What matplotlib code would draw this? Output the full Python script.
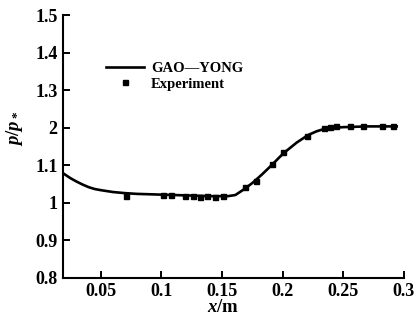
import matplotlib
matplotlib.use("Agg")
import matplotlib.pyplot as plt

# Model curve (GAO-YONG)
model_x = [0.019, 0.025, 0.03, 0.035, 0.04, 0.045, 0.05, 0.06, 0.07, 0.08, 0.10, 0.12, 0.14,
           0.155, 0.161, 0.168, 0.175, 0.183, 0.191, 0.2005, 0.2116, 0.221, 0.228, 0.233,
           0.24, 0.25, 0.27, 0.294]
model_y = [1.078, 1.065, 1.056, 1.048, 1.041, 1.036, 1.033, 1.028, 1.025, 1.023, 1.021, 1.019,
           1.017, 1.017, 1.02, 1.035, 1.052, 1.075, 1.10, 1.131, 1.160, 1.180, 1.190, 1.195,
           1.199, 1.201, 1.203, 1.203]

# Experiment points
exp_x = [0.0708, 0.1013, 0.1079, 0.1195, 0.1261, 0.1318, 0.1376, 0.1442, 0.1508,
         0.1689, 0.178, 0.191, 0.2005, 0.2198, 0.2343, 0.239, 0.244, 0.2555, 0.2665,
         0.2816, 0.2912]
exp_y = [1.018, 1.019, 1.019, 1.017, 1.017, 1.016, 1.017, 1.016, 1.017,
         1.042, 1.058, 1.103, 1.134, 1.177, 1.200, 1.202, 1.203, 1.203, 1.203,
         1.203, 1.203]

xticks = [0.05, 0.1, 0.15, 0.2, 0.25, 0.3]
xtick_labels = ["0.05", "0.1", "0.15", "0.2", "0.25", "0.3"]
yticks = [0.8, 0.9, 1.0, 1.1, 1.2, 1.3, 1.4, 1.5]
ytick_labels = ["0.8", "0.9", "1", "1.1", "2", "1.3", "1.4", "1.5"]

plt.rcParams['font.family'] = ['Liberation Serif', 'DejaVu Serif']
plt.rcParams['mathtext.fontset'] = 'custom'
plt.rcParams['mathtext.it'] = 'Liberation Serif:italic:bold'
plt.rcParams['mathtext.rm'] = 'Liberation Serif:bold'
plt.rcParams['mathtext.bf'] = 'Liberation Serif:bold'

fig = plt.figure(figsize=(4.18, 3.2), dpi=100)
ax = fig.add_axes([0.1507, 0.1328, 0.8158, 0.8202])

ax.plot(model_x, model_y, color='black', lw=1.9, label='GAO\u2014YONG', zorder=2)
ax.plot(exp_x, exp_y, ls='none', marker='s', ms=3.6, color='black', label='Experiment', zorder=3)

ax.set_xlim(0.0189, 0.3)
ax.set_ylim(0.8, 1.5)
ax.set_xticks(xticks)
ax.set_xticklabels(xtick_labels)
ax.set_yticks(yticks)
ax.set_yticklabels(ytick_labels)

for s in ['top', 'right']:
    ax.spines[s].set_visible(False)
for s in ['left', 'bottom']:
    ax.spines[s].set_linewidth(1.5)

ax.tick_params(direction='in', length=5, width=1.4, labelsize=13, pad=4)
for lab in ax.get_xticklabels() + ax.get_yticklabels():
    lab.set_fontweight('bold')

ax.set_xlabel('$x/\\mathrm{m}$', fontsize=13.5)
ax.xaxis.set_label_coords(0.47, -0.08)
ax.set_ylabel('$p/p_*$', fontsize=13.5)
ax.yaxis.set_label_coords(-0.11, 0.57)

leg = ax.legend(loc='upper left', bbox_to_anchor=(0.095, 0.86), frameon=False,
                prop={'weight': 'bold', 'size': 10.5}, handlelength=2.6,
                handletextpad=0.5, labelspacing=0.15, borderpad=0.2)

fig.savefig('out.png', dpi=100)
